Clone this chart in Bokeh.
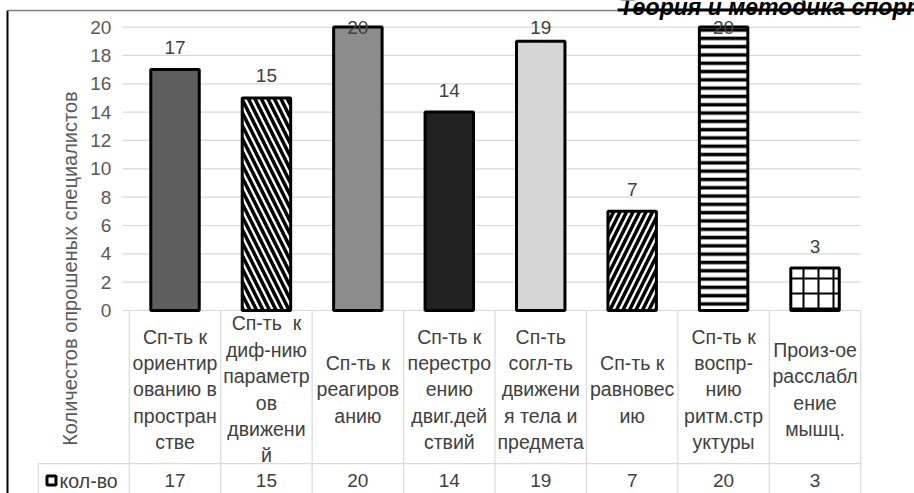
import numpy as np
from bokeh.plotting import figure
from bokeh.models import Range1d, ColumnDataSource
from bokeh.embed import file_html
from bokeh.resources import INLINE
from bokeh.core.properties import value

# ---------------- data ----------------
categories = [
    "Сп-ть к\nориентир\nованию в\nпростран\nстве",
    "Сп-ть\u00a0 к\nдиф-нию\nпараметр\nов\nдвижени\nй",
    "Сп-ть к\nреагиров\nанию",
    "Сп-ть к\nперестро\nению\nдвиг.дей\nствий",
    "Сп-ть\nсогл-ть\nдвижени\nя тела и\nпредмета",
    "Сп-ть к\nравновес\nию",
    "Сп-ть к\nвоспр-\nнию\nритм.стр\nуктуры",
    "Произ-ое\nрасслабл\nение\nмышц.",
]
values = [17, 15, 20, 14, 19, 7, 20, 3]
tick_values = [0, 2, 4, 6, 8, 10, 12, 14, 16, 18, 20]
y_title = "Количестов опрошеных специалистов"
row_label = "кол-во"
header = "Теория и методика спорта"

# ---------------- styles ----------------
fills = ["#5e5e5e", "white", "#8c8c8c", "#222222", "#d6d6d6", "white", "white", "white"]
hatches = [" ", "\\", " ", " ", " ", "/", "-", "+"]
hatch_scales = [12, 13, 12, 12, 12, 13, 8.3, 15]
hatch_weights = [1, 3.5, 1, 1, 1, 3.5, 3.5, 2]

FONT = value("Liberation Sans")
GRID = "#d9d9d9"

n = len(values)
idx = np.arange(n)

p = figure(width=914, height=493,
           x_range=Range1d(-1.9086, 8.088), y_range=Range1d(-12.915, 21.877),
           output_backend="svg", toolbar_location=None, min_border=0,
           x_axis_location=None, y_axis_location=None)
p.grid.visible = False
p.outline_line_color = None
p.background_fill_color = "white"
p.border_fill_color = "white"

# gridlines
nt = len(tick_values)
p.segment(x0=[-0.575] * nt, y0=tick_values, x1=[7.5] * nt, y1=tick_values,
          line_color=GRID, line_width=1.2)

# tick labels
p.text(x=[-0.5] * nt, y=tick_values, text=[str(t) for t in tick_values],
       x_offset=-18, text_align="right", text_baseline="middle",
       text_font=FONT, text_font_size="19px", text_color="#595959")

# bars
src = ColumnDataSource(dict(x=idx, top=values, fill=fills, hatch=hatches,
                            hs=hatch_scales, hw=hatch_weights))
p.vbar(x="x", top="top", bottom=0, width=0.53, source=src,
       fill_color="fill", line_color="black", line_width=3,
       hatch_pattern="hatch", hatch_color="black",
       hatch_scale="hs", hatch_weight="hw")

# value labels
lab_y = np.minimum(np.array(values) + 1.55, 20)
p.text(x=idx, y=lab_y, text=[str(v) for v in values],
       text_align="center", text_baseline="middle",
       text_font=FONT, text_font_size="19px", text_color="#404040")

# data table lines
ymin = -12.915
row_y = -10.8
bounds = np.arange(n + 1) - 0.5
p.segment(x0=bounds, y0=[0] * (n + 1), x1=bounds, y1=[ymin] * (n + 1),
          line_color=GRID, line_width=1.2)
p.segment(x0=[-1.495], y0=[row_y], x1=[7.5], y1=[row_y], line_color=GRID, line_width=1.2)
p.segment(x0=[-1.495], y0=[row_y], x1=[-1.495], y1=[ymin], line_color=GRID, line_width=1.2)

# category labels
p.text(x=idx, y=[-5.575] * n, text=categories,
       text_align="center", text_baseline="middle", text_line_height=1.2,
       text_font=FONT, text_font_size="19.5px", text_color="#404040")

# values row
p.text(x=idx, y=[-12.0] * n, text=[str(v) for v in values],
       text_align="center", text_baseline="middle",
       text_font=FONT, text_font_size="19px", text_color="#404040")

# legend key + row label
p.scatter(x=[-1.351], y=[-12.0], marker="square", size=9,
          fill_color="white", line_color="black", line_width=3)
p.text(x=[-1.262], y=[-12.0], text=[row_label], text_align="left",
       text_baseline="middle", text_font=FONT, text_font_size="19.5px",
       text_color="#404040")

# y title
p.text(x=[-1.143], y=[2.96], text=[y_title], angle=np.pi / 2,
       text_align="center", text_baseline="middle",
       text_font=FONT, text_font_size="20px", text_color="#595959")

# outer frame and running header
p.segment(x0=[-1.832], y0=[ymin], x1=[-1.832], y1=[21.17], line_color="black", line_width=2)
p.segment(x0=[-1.832], y0=[21.17], x1=[4.84], y1=[21.17], line_color="#808080", line_width=1.5)
p.segment(x0=[4.84], y0=[21.21], x1=[8.088], y1=[21.21], line_color="black", line_width=3)
p.text(x=[4.86], y=[21.45], text=[header], text_align="left",
       text_baseline="alphabetic", text_font=FONT, text_font_size="23px",
       text_font_style="bold italic", text_color="black")

open("out.html", "w").write(file_html(p, INLINE))
